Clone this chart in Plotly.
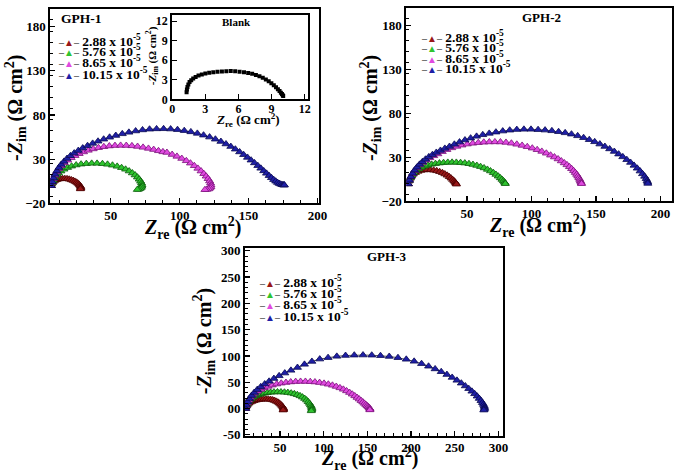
import plotly.graph_objects as go

# ---------------- data ----------------
conc_labels = ["2.88 x 10<sup>-5</sup>", "5.76 x 10<sup>-5</sup>",
               "8.65 x 10<sup>-5</sup>", "10.15 x 10<sup>-5</sup>"]
colors_fill = ["#991818", "#2fc42f", "#e04ae0", "#1f1fa6"]
colors_edge = ["#4a0000", "#0a5a0a", "#7a107a", "#0a0a50"]

# Blank (inset)
blank_x = [1.3, 1.33, 1.38, 1.46, 1.57, 1.72, 1.9, 2.12, 2.38, 2.68, 3.0, 3.35, 3.72, 4.1,
           4.5, 4.9, 5.3, 5.7, 6.1, 6.5, 6.88, 7.24, 7.58, 7.9, 8.2, 8.48, 8.74, 8.98,
           9.2, 9.4, 9.57, 9.72, 9.84, 9.94, 10.01, 10.05]
blank_y = [1.1, 1.5, 1.9, 2.3, 2.65, 2.95, 3.2, 3.45, 3.65, 3.82, 3.96, 4.07, 4.16, 4.23,
           4.29, 4.33, 4.34, 4.3, 4.25, 4.17, 4.06, 3.92, 3.75, 3.55, 3.32, 3.06, 2.78,
           2.48, 2.17, 1.86, 1.56, 1.28, 1.03, 0.82, 0.64, 0.5]

# GPH-1
g1_red_x = [6.5, 6.9, 7.5, 8.3, 9.3, 10.5, 11.9, 13.4, 15.0, 16.6, 18.2, 19.8, 21.3, 22.7,
            23.9, 25.0, 25.9, 26.7, 27.3, 27.8, 28.1, 28.2, 28.1, 27.9]
g1_red_y = [0.0, 1.8, 3.4, 4.8, 5.9, 6.8, 7.4, 7.8, 8.0, 8.0, 7.8, 7.3, 6.6, 5.8,
            4.9, 3.9, 2.9, 1.8, 0.8, -0.2, -1.2, -2.2, -3.0, -3.6]
g1_grn_x = [6.8, 7.4, 8.2, 9.2, 10.5, 12.0, 13.8, 16.0, 18.6, 21.5, 24.8, 28.4, 32.2, 36.1,
            40.0, 43.9, 47.6, 51.2, 54.6, 57.8, 60.7, 63.3, 65.6, 67.6, 69.3, 70.6, 71.6,
            72.3, 72.6, 72.5, 72.0, 71.2, 70.2, 69.2]
g1_grn_y = [0.0, 3.0, 6.0, 8.9, 11.7, 14.2, 16.5, 18.6, 20.5, 22.1, 23.4, 24.4, 25.0, 25.3,
            25.3, 24.9, 24.2, 23.2, 21.9, 20.4, 18.6, 16.6, 14.4, 12.1, 9.7, 7.3, 5.0,
            2.9, 1.0, -0.7, -2.1, -3.2, -4.0, -4.4]
g1_mag_x = [6.8, 7.4, 8.2, 9.3, 10.6, 12.2, 14.0, 16.2, 18.6, 21.2, 24.0, 27.0, 30.2, 33.6,
            37.2, 41.0, 44.9, 48.9, 53.0, 57.1, 61.2, 65.3, 69.4, 73.4, 77.3, 81.1, 84.6,
            87.8, 90.7, 94.5, 98.0, 101.5, 104.8, 107.8, 110.6, 113.2, 115.5, 117.5, 119.2,
            120.6, 121.7, 122.4, 122.7, 122.6, 122.0, 121.0, 119.6, 118.3]
g1_mag_y = [0.0, 4.0, 8.0, 11.8, 15.5, 19.1, 22.6, 25.9, 28.9, 31.6, 34.0, 36.2, 38.2, 40.0,
            41.6, 43.0, 44.1, 44.9, 45.4, 45.6, 45.5, 45.1, 44.4, 43.4, 42.2, 40.9, 39.5,
            38.3, 37.6, 35.3, 33.2, 30.8, 28.2, 25.5, 22.6, 19.6, 16.6, 13.6, 10.7,
            7.9, 5.3, 2.9, 0.7, -1.2, -2.7, -3.7, -4.3, -4.5]
g1_blu_x = [6.8, 7.5, 8.4, 9.5, 10.8, 12.3, 14.0, 16.0, 18.2, 20.7, 23.4, 26.4, 29.6, 33.1,
            36.8, 40.7, 44.8, 49.1, 53.6, 58.3, 63.1, 68.0, 73.0, 78.1, 83.2, 88.3, 93.4,
            98.4, 103.3, 108.1, 112.8, 117.3, 121.7, 125.9, 129.9, 133.6, 137.1, 140.4,
            143.5, 146.4, 149.2, 151.8, 154.3, 156.7, 158.9, 161.0, 163.0, 164.9, 166.6,
            168.2, 169.7, 171.0, 172.2, 173.3, 174.3, 175.1, 175.7, 176.0]
g1_blu_y = [0.0, 4.5, 8.8, 12.9, 16.8, 20.5, 24.1, 27.5, 30.8, 33.9, 36.9, 39.8, 42.6, 45.3,
            47.9, 50.3, 52.6, 54.8, 56.8, 58.7, 60.4, 61.9, 63.1, 63.9, 64.3, 64.4, 64.1,
            63.4, 62.3, 60.9, 59.2, 57.2, 55.0, 52.6, 50.0, 47.2, 44.3, 41.3,
            38.2, 35.1, 32.0, 28.9, 25.8, 22.7, 19.7, 16.8, 14.0, 11.4, 9.0,
            6.9, 5.1, 3.6, 2.5, 1.7, 1.2, 0.9, 0.8, 0.7]

# GPH-2
g2_red_x = [4.5, 5.0, 5.8, 6.9, 8.3, 10.0, 12.0, 14.2, 16.6, 19.1, 21.6, 24.1, 26.5, 28.8,
            30.9, 32.8, 34.6, 36.2, 37.6, 38.8, 39.8, 40.6, 41.2, 41.6, 41.8]
g2_red_y = [0.0, 3.2, 6.2, 8.8, 11.0, 12.8, 14.2, 15.2, 15.8, 16.0, 15.9, 15.5, 14.8, 13.8,
            12.6, 11.2, 9.7, 8.1, 6.5, 4.9, 3.5, 2.2, 1.1, 0.3, -0.4]
g2_grn_x = [4.5, 5.2, 6.2, 7.4, 8.9, 10.6, 12.5, 14.7, 17.1, 19.7, 22.5, 25.5, 28.6, 31.8,
            35.1, 38.4, 41.7, 45.0, 48.3, 51.5, 54.6, 57.6, 60.5, 63.2, 65.8, 68.2, 70.4,
            72.4, 74.2, 75.8, 77.1, 78.2, 79.0, 79.5, 79.7]
g2_grn_y = [0.0, 3.5, 6.8, 9.8, 12.5, 14.9, 16.9, 18.6, 20.0, 21.2, 22.2, 23.0, 23.6, 24.1,
            24.4, 24.5, 24.4, 24.1, 23.6, 22.9, 22.0, 20.9, 19.6, 18.1, 16.4, 14.6, 12.7,
            10.7, 8.7, 6.8, 5.0, 3.4, 2.0, 0.9, 0.2]
g2_mag_x = [4.5, 5.3, 6.4, 7.8, 9.4, 11.3, 13.4, 15.8, 18.4, 21.2, 24.2, 27.4, 30.8, 34.4,
            38.2, 42.1, 46.1, 50.2, 54.4, 58.7, 63.0, 67.3, 71.6, 75.9, 80.2, 84.4, 88.6,
            92.7, 96.7, 100.6, 104.4, 108.0, 111.5, 114.8, 117.8, 120.6, 123.1, 125.4,
            127.5, 129.4, 131.1, 132.6, 133.9, 135.0, 135.9, 136.7, 137.4, 137.9, 138.3,
            138.6, 138.8]
g2_mag_y = [0.0, 4.0, 7.9, 11.6, 15.1, 18.4, 21.5, 24.4, 27.1, 29.6, 31.9, 34.0, 36.6, 38.9,
            40.9, 42.6, 44.0, 45.2, 46.1, 46.8, 47.3, 47.6, 47.7, 47.6, 47.1, 46.2, 45.0,
            43.7, 42.2, 40.6, 38.8, 36.9, 34.8, 32.6, 30.5, 28.3, 26.0, 23.8,
            21.6, 19.4, 17.2, 15.0, 12.8, 10.7, 8.7, 6.8, 5.0, 3.4, 2.0,
            0.9, 0.2]
g2_blu_x = [4.5, 5.3, 6.4, 7.8, 9.4, 11.2, 13.2, 15.4, 17.8, 20.4, 23.2, 26.2, 29.4, 32.8,
            36.4, 40.2, 44.2, 48.4, 52.8, 57.4, 62.2, 67.2, 72.4, 77.7, 83.1, 88.6, 94.1,
            99.6, 105.1, 110.5, 115.8, 121.0, 126.1, 131.0, 135.8, 140.4, 144.8, 149.0,
            153.0, 156.9, 160.6, 164.2, 167.6, 170.8, 173.9, 176.8, 179.5, 182.0, 184.2,
            186.1, 187.7, 188.9, 189.7, 190.1, 190.2]
g2_blu_y = [0.0, 4.2, 8.2, 12.0, 15.6, 19.0, 22.2, 25.2, 28.0, 30.7, 33.2, 35.7, 38.0, 40.3,
            42.5, 45.0, 47.5, 49.8, 52.0, 54.0, 55.8, 57.4, 58.8, 60.0, 61.0, 61.7, 62.0,
            62.0, 61.6, 61.1, 60.3, 59.3, 58.0, 56.5, 54.6, 52.5, 50.2, 47.8,
            45.2, 42.5, 39.7, 36.8, 33.8, 30.7, 27.5, 24.3, 21.0, 17.7, 14.5,
            11.4, 8.5, 5.9, 3.6, 1.8, 0.5]

# GPH-3
g3_red_x = [10.5, 11.0, 11.8, 12.9, 14.3, 16.0, 18.0, 20.3, 22.8, 25.5, 28.3, 31.1, 33.9,
            36.6, 39.2, 41.6, 43.8, 45.8, 47.6, 49.2, 50.6, 51.8, 52.8, 53.5, 54.0, 54.2,
            54.0, 53.5]
g3_red_y = [0.0, 2.8, 5.4, 7.8, 9.9, 11.8, 13.4, 14.8, 15.9, 16.8, 17.4, 17.8, 17.9,
            17.7, 17.2, 16.3, 15.1, 13.6, 11.9, 10.0, 8.0, 6.0, 4.0, 2.2, 0.5, -1.0,
            -2.2, -3.0]
g3_grn_x = [10.5, 11.2, 12.3, 13.7, 15.4, 17.4, 19.7, 22.3, 25.2, 28.4, 31.8, 35.4, 39.2,
            43.1, 47.1, 51.1, 55.1, 59.0, 62.8, 66.4, 69.8, 72.9, 75.7, 78.2, 80.4, 82.2,
            83.7, 84.9, 85.8, 86.3, 86.5, 86.3, 85.8]
g3_grn_y = [0.0, 4.5, 8.7, 12.6, 16.1, 19.2, 21.9, 24.2, 26.2, 27.8, 29.1, 30.1, 30.8,
            31.3, 31.5, 31.4, 31.0, 30.3, 29.3, 27.9, 26.2, 24.1, 21.7, 19.0, 16.0, 12.9,
            9.8, 6.8, 4.0, 1.5, -0.8, -2.8, -4.4]
g3_mag_x = [10.5, 11.3, 12.5, 14.1, 16.1, 18.5, 21.3, 24.5, 28.1, 32.1, 36.5, 41.2, 46.2,
            51.4, 56.8, 62.3, 67.9, 73.5, 79.1, 84.6, 90.0, 95.3, 100.4, 105.3, 110.0,
            114.4, 118.6, 122.5, 126.2, 129.6, 132.7, 135.6, 138.2, 140.6, 142.8, 144.8,
            146.6, 148.2, 149.6, 150.8, 151.8, 152.5, 152.9, 153.0, 152.8]
g3_mag_y = [0.0, 5.5, 10.8, 15.8, 20.5, 24.9, 29.0, 32.8, 36.3, 39.4, 42.1, 44.5, 46.5,
            48.2, 49.5, 50.5, 51.2, 51.5, 51.5, 51.1, 50.4, 49.3, 47.9, 46.2, 44.2,
            41.9, 39.3, 36.5, 33.5, 30.4, 27.2, 24.0, 20.9, 17.9, 15.0, 12.3,
            9.8, 7.5, 5.4, 3.6, 2.0, 0.6, -0.6, -1.7, -2.6]
g3_blu_x = [10.5, 11.5, 13.0, 15.0, 17.5, 20.5, 24.0, 28.0, 32.5, 37.5, 43.0, 49.0, 55.5,
            62.5, 70.0, 78.0, 86.5, 95.5, 105.0, 115.0, 125.0, 135.0, 145.0, 155.0, 165.0,
            175.0, 185.0, 194.5, 203.5, 212.0, 220.0, 227.5, 234.5, 241.0, 247.0, 252.5,
            257.5, 262.0, 266.0, 269.6, 272.8, 275.6, 278.0, 280.0, 281.6, 282.8, 283.6,
            284.0, 284.1, 283.8, 283.2]
g3_blu_y = [0.0, 6.5, 12.8, 18.9, 24.8, 30.5, 36.0, 41.4, 46.6, 51.8, 57.0, 62.2, 67.4,
            72.6, 78.0, 84.0, 89.5, 94.0, 96.8, 99.2, 100.8, 101.5, 101.7, 101.4, 100.5,
            99.0, 96.7, 93.6, 89.8, 85.3, 80.4, 75.3, 70.0, 64.6, 59.1, 53.6,
            48.2, 42.9, 37.8, 32.8, 28.0, 23.4, 19.0, 14.9, 11.1, 7.7, 4.7,
            2.2, 0.2, -1.6, -3.0]

panels = [
    ("x", "y", [(g1_red_x, g1_red_y), (g1_grn_x, g1_grn_y), (g1_mag_x, g1_mag_y), (g1_blu_x, g1_blu_y)]),
    ("x3", "y3", [(g2_red_x, g2_red_y), (g2_grn_x, g2_grn_y), (g2_mag_x, g2_mag_y), (g2_blu_x, g2_blu_y)]),
    ("x4", "y4", [(g3_red_x, g3_red_y), (g3_grn_x, g3_grn_y), (g3_mag_x, g3_mag_y), (g3_blu_x, g3_blu_y)]),
]

W, H = 685, 475
SERIF = "Liberation Serif, Times New Roman, serif"


def px_x(p):
    return p / W


def px_y(p):
    return 1 - p / H


fig = go.Figure()

for xa, ya, series in panels:
    for i, (xs, ys) in enumerate(series):
        fig.add_trace(go.Scatter(
            x=xs, y=ys, xaxis=xa, yaxis=ya, mode="lines+markers",
            name=conc_labels[i], showlegend=False,
            line=dict(color="#555555", width=1),
            marker=dict(symbol="triangle-up", size=7, color=colors_fill[i],
                        line=dict(color=colors_edge[i], width=0.8)),
        ))

fig.add_trace(go.Scatter(
    x=blank_x, y=blank_y, xaxis="x2", yaxis="y2", mode="markers", name="Blank",
    showlegend=False, marker=dict(symbol="square", size=4, color="black"),
))


def tfont(size):
    return dict(family=SERIF, size=size, color="black", weight="bold")


def axis(domain, rng, anchor, dtick, minor_dtick, tick0=None, tickvals=None,
         ticktext=None, tsize=13, minor=True, standoff=0):
    d = dict(domain=domain, range=rng, anchor=anchor, showline=True, linewidth=2,
             linecolor="black", mirror=True, ticks="inside", ticklen=5, tickwidth=1.2,
             tickcolor="black", showgrid=False, zeroline=False, tickfont=tfont(tsize),
             ticklabelstandoff=standoff,
             minor=dict(ticks="inside" if minor else "", ticklen=3, tickwidth=1,
                        tickcolor="black", dtick=minor_dtick, showgrid=False))
    if tickvals is not None:
        d.update(tickmode="array", tickvals=tickvals, ticktext=ticktext)
    else:
        d.update(dtick=dtick)
        if tick0 is not None:
            d.update(tick0=tick0)
    return d


XT = "<i>Z</i><sub>re</sub> (Ω cm<sup>2</sup>)"
YT = "-<i>Z</i><sub>im</sub> (Ω cm<sup>2</sup>)"

fig.update_layout(
    width=W, height=H, margin=dict(l=0, r=0, t=0, b=0),
    paper_bgcolor="white", plot_bgcolor="white", showlegend=False,
    xaxis=axis([px_x(48), px_x(321)], [6, 201], "y", 50, 12.5, tick0=0, standoff=-1),
    yaxis=axis([px_y(204), px_y(4)], [-20, 200], "x", 50, 12.5, tick0=-20),
    xaxis2=axis([px_x(172), px_x(310)], [0, 12.3], "y2", 3, 1, tick0=0, tsize=12,
                minor=False, standoff=-3),
    yaxis2=axis([px_y(97), px_y(10)], [0, 13], "x2", 3, 1, tick0=0, tsize=12, minor=False),
    xaxis3=axis([px_x(410), px_x(680)], [3, 209], "y3", 50, 12.5, tick0=0, standoff=-1),
    yaxis3=axis([px_y(202), px_y(3)], [-20, 200], "x3", 50, 12.5, tick0=-20),
    xaxis4=axis([px_x(246), px_x(508)], [10, 305], "y4", 50, 10, tick0=0, standoff=-1),
    yaxis4=axis([px_y(443), px_y(250)], [-52, 305], "x4", 50, 10,
                tickvals=[-50, 0, 50, 100, 150, 200, 250, 300],
                ticktext=["-50", "00", "50", "100", "150", "200", "250", "300"]),
)

annotations = []


def ann(text, cx, cy, size, angle=0, xanchor="center"):
    annotations.append(dict(text=text, x=px_x(cx), y=px_y(cy), xref="paper", yref="paper",
                            showarrow=False, xanchor=xanchor, yanchor="middle",
                            textangle=angle, font=tfont(size)))


# axis titles
ann(XT, 193, 229, 20)
ann(XT, 543, 227, 20)
ann(XT, 372, 467, 20)
ann(YT, 13, 106, 20, angle=-90)
ann(YT, 374, 106, 20, angle=-90)
ann(YT, 204, 346, 20, angle=-90)
ann(XT, 249, 118, 13)
ann(YT, 151, 52, 11, angle=-90)

# panel titles
ann("GPH-1", 80, 14, 13.5)
ann("Blank", 237, 17, 11)
ann("GPH-2", 547, 13, 13)
ann("GPH-3", 390, 259, 13)

# legends
legend_pos = [(54, [36, 47, 58.5, 70]), (423, [32, 43, 54, 64]), (258, [284, 296, 307, 319])]
for lx, rows in legend_pos:
    for i, ry in enumerate(rows):
        txt = (f"<span style='font-size:10px'><span style='color:#555555'>–</span>"
               f"<span style='color:{colors_fill[i]}'>▲</span>"
               f"<span style='color:#555555'>–</span></span> {conc_labels[i]}")
        ann(txt, lx, ry, 13.5, xanchor="left")

fig.update_layout(annotations=annotations)

fig.write_html("out.html",
               config={"displayModeBar": False, "staticPlot": True},
               post_script="document.body.style.margin='0px';document.body.style.overflow='hidden';")
